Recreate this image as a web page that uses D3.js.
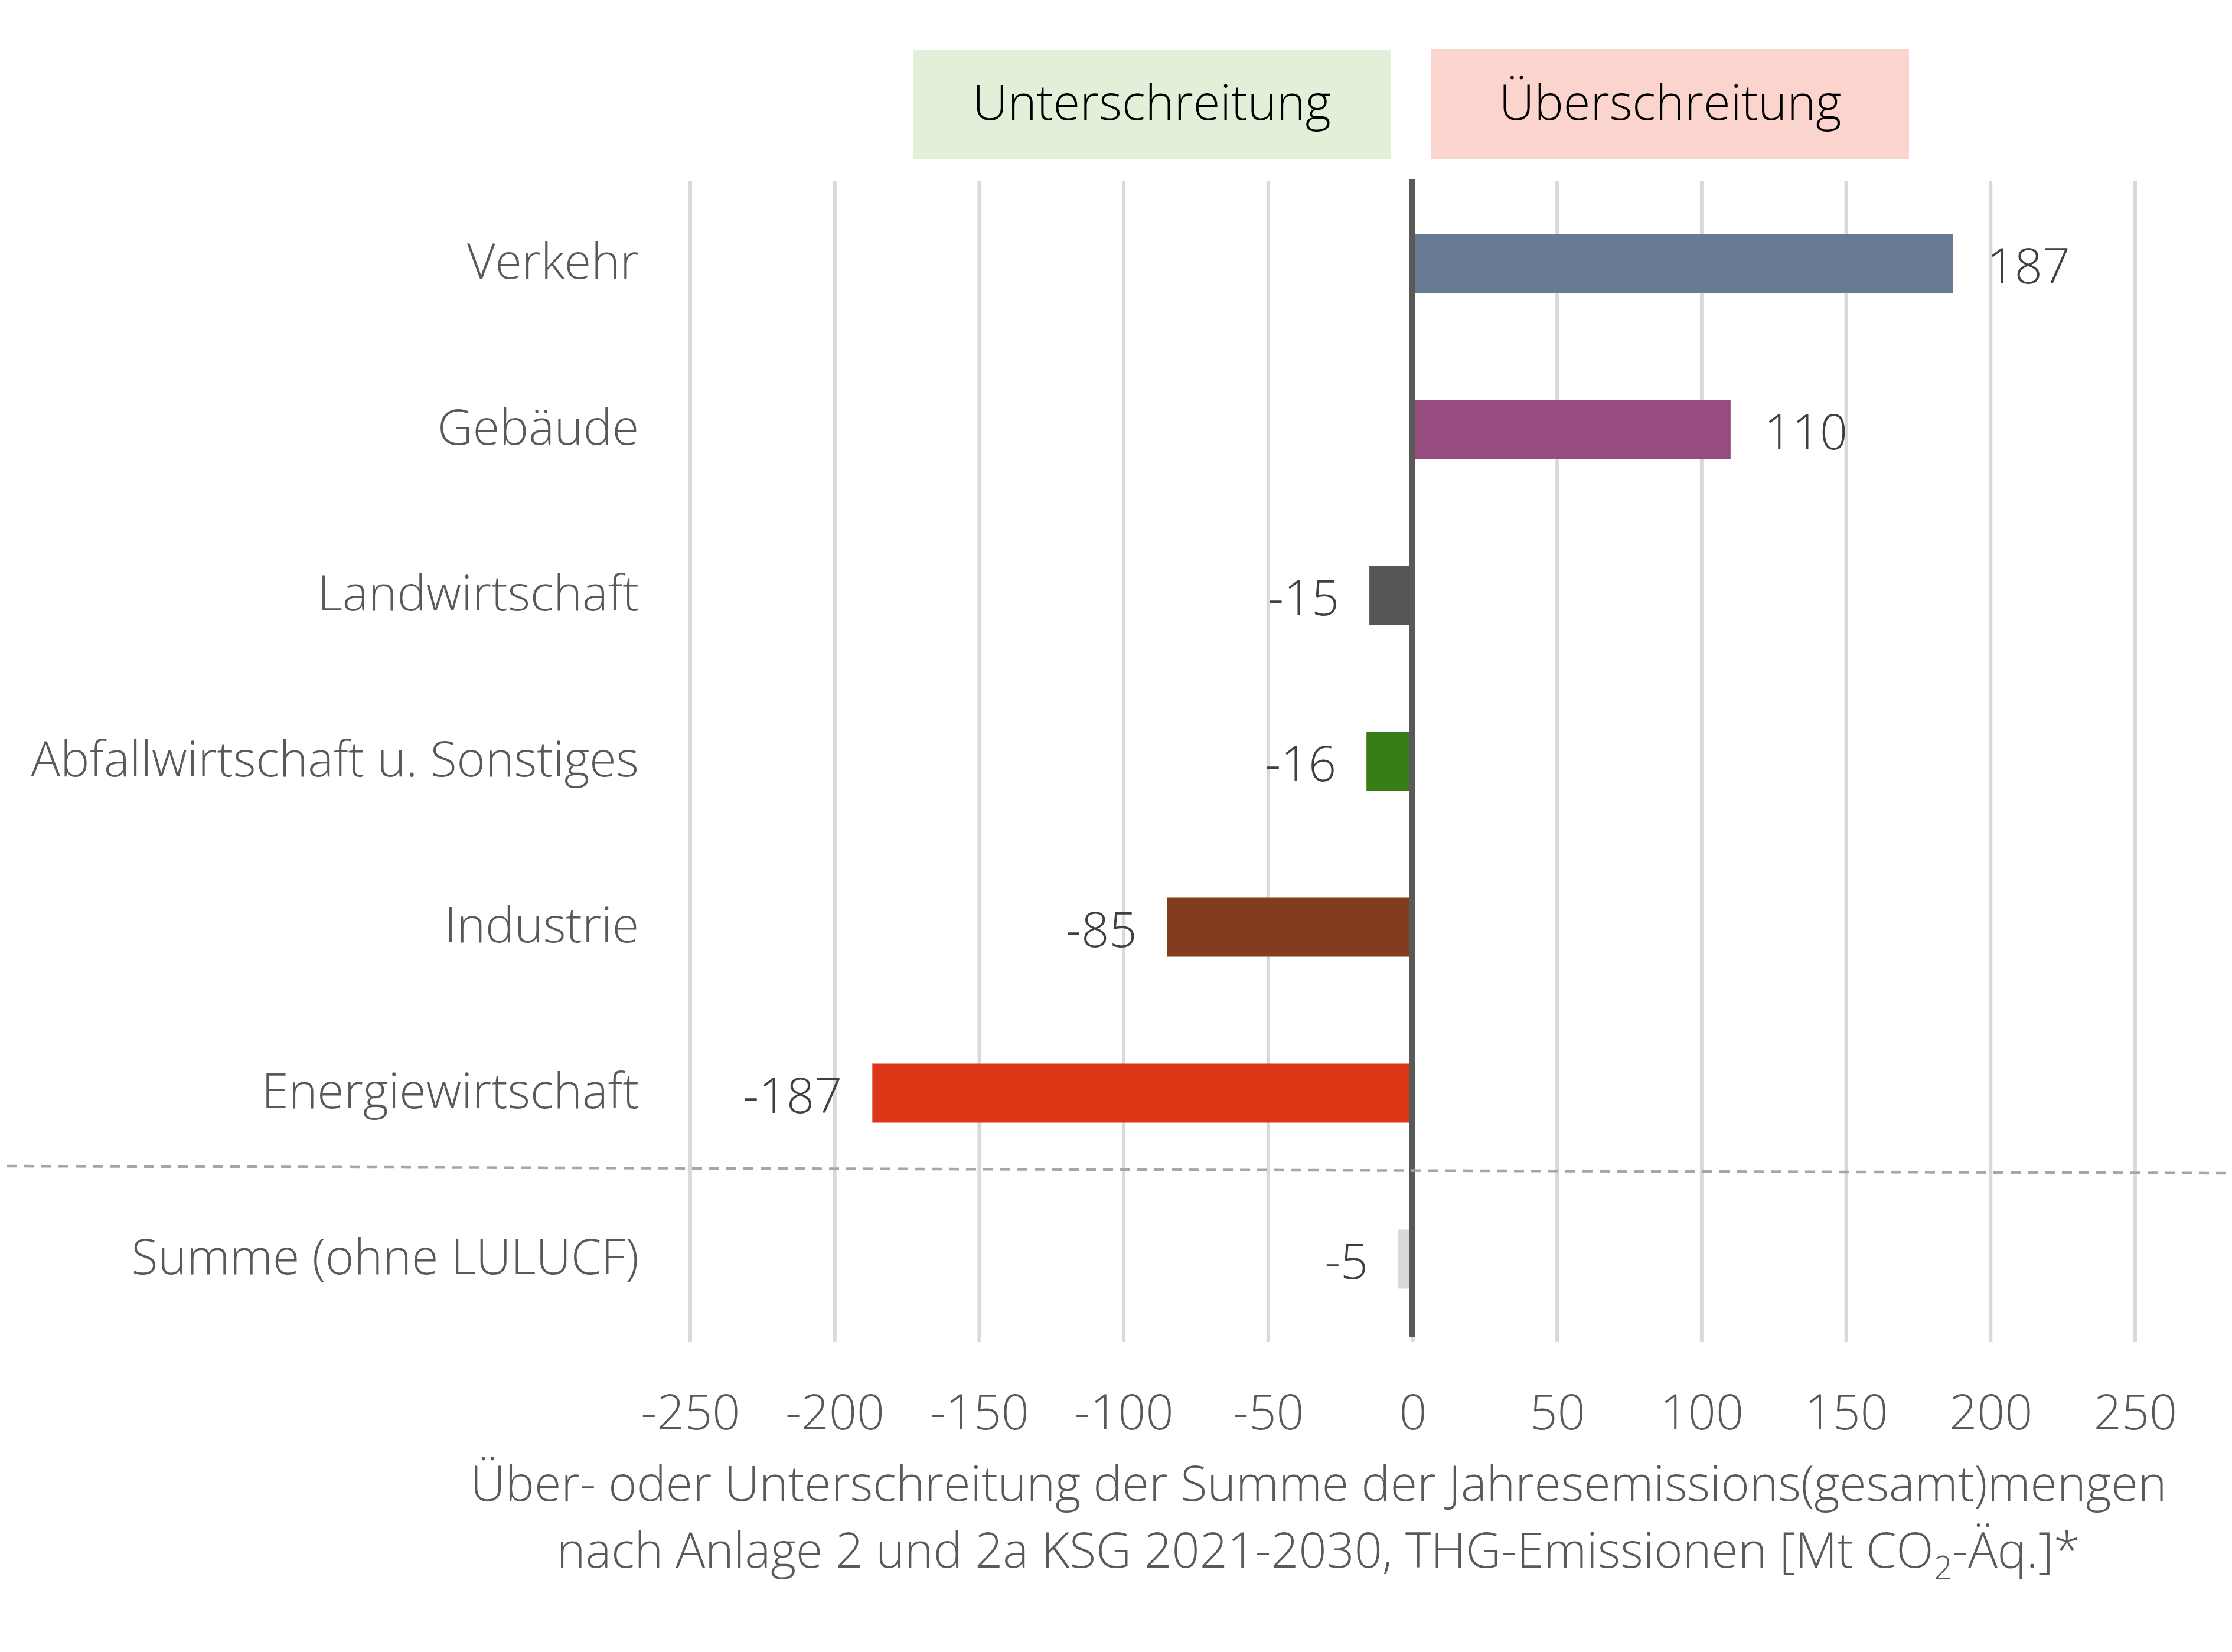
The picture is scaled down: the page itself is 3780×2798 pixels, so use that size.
<!DOCTYPE html>
<html>
<head>
<meta charset="utf-8">
<script src="https://cdn.jsdelivr.net/npm/d3@7"></script>
<style>
  html, body { margin: 0; padding: 0; background: #ffffff; }
  svg { display: block; font-family: "Open Sans", sans-serif; font-weight: 300; }
</style>
</head>
<body>
<svg id="chart" width="3780" height="2798"></svg>
<script>
// ---- data ----
const categories = ["Verkehr", "Gebäude", "Landwirtschaft", "Abfallwirtschaft u. Sonstiges", "Industrie", "Energiewirtschaft", "Summe (ohne LULUCF)"];
const values = [187, 110, -15, -16, -85, -187, -5];
const barColors = ["#677c93", "#964c7e", "#565656", "#377c15", "#843c1e", "#db3615", "#dadada"];
const tickValues = [-250, -200, -150, -100, -50, 0, 50, 100, 150, 200, 250];
const tickLabels = ["-250", "-200", "-150", "-100", "-50", "0", "50", "100", "150", "200", "250"];
const legendLabels = ["Unterschreitung", "Überschreitung"];
const legendColors = ["#e2f0d9", "#fbd5cd"];
const axisTitleLine1 = "Über- oder Unterschreitung der Summe der Jahresemissions(gesamt)mengen";
const axisTitleLine2 = ["nach Anlage 2 und 2a KSG 2021-2030, THG-Emissionen [Mt CO", "2", "-Äq.]*"];

// ---- layout ----
const svg = d3.select("#chart");
const x = d3.scaleLinear().domain([-250, 250]).range([1169, 3616]);
const y = d3.scaleBand().domain(categories).range([306, 2273]).paddingInner(0).paddingOuter(0);
const barH = 100;
const fs = 82.5;
const textGray = "#595959";
const labelDark = "#404040";

// gridlines
svg.append("g").selectAll("line").data(tickValues).join("line")
  .attr("x1", d => x(d)).attr("x2", d => x(d))
  .attr("y1", 306).attr("y2", 2273)
  .attr("stroke", "#d9d9d9").attr("stroke-width", 6);

// bars
const cy = c => y(c) + y.bandwidth() / 2;
svg.append("g").selectAll("rect").data(categories).join("rect")
  .attr("x", (c, i) => Math.min(x(0), x(values[i])))
  .attr("width", (c, i) => Math.abs(x(values[i]) - x(0)))
  .attr("y", c => cy(c) - barH / 2)
  .attr("height", barH)
  .attr("fill", (c, i) => barColors[i]);

// zero axis line
svg.append("line")
  .attr("x1", x(0) - 1).attr("x2", x(0) - 1)
  .attr("y1", 303).attr("y2", 2264)
  .attr("stroke", "#595959").attr("stroke-width", 11);

// dashed separator between sectors and sum
const sepY = (cy(categories[5]) + cy(categories[6])) / 2;
svg.append("line")
  .attr("x1", 12).attr("x2", 3780)
  .attr("y1", sepY - 17).attr("y2", sepY - 5)
  .attr("stroke", "#a6a6a6").attr("stroke-width", 4.5)
  .attr("stroke-dasharray", "17 12");

// category labels
svg.append("g").selectAll("text").data(categories).join("text")
  .attr("x", 1082).attr("y", c => cy(c) + 25)
  .attr("text-anchor", "end")
  .attr("font-size", fs).attr("fill", textGray)
  .text(c => c);

// value labels
svg.append("g").selectAll("text").data(categories).join("text")
  .attr("x", (c, i) => values[i] >= 0 ? x(values[i]) + 57 : x(values[i]) - 51)
  .attr("y", c => cy(c) + 33)
  .attr("text-anchor", (c, i) => values[i] >= 0 ? "start" : "end")
  .attr("font-size", fs).attr("fill", labelDark)
  .text((c, i) => String(values[i]));

// x axis tick labels
const xAxis = d3.axisBottom(x).tickValues(tickValues).tickSize(0).tickPadding(0)
  .tickFormat((d, i) => tickLabels[i]);
const axG = svg.append("g").attr("transform", "translate(0,2340)").call(xAxis);
axG.select(".domain").remove();
axG.selectAll("text")
  .attr("font-family", "Open Sans, sans-serif").attr("font-weight", 300)
  .attr("font-size", fs).attr("fill", textGray)
  .attr("dy", null).attr("y", 81);

// axis title
svg.append("text")
  .attr("x", 2233).attr("y", 2542).attr("text-anchor", "middle")
  .attr("font-size", fs).attr("fill", textGray)
  .text(axisTitleLine1);
const t2 = svg.append("text")
  .attr("x", 2233).attr("y", 2655).attr("text-anchor", "middle")
  .attr("font-size", fs).attr("fill", textGray);
t2.append("tspan").text(axisTitleLine2[0]);
t2.append("tspan").attr("font-size", 56).attr("dy", 20).text(axisTitleLine2[1]);
t2.append("tspan").attr("dy", -20).text(axisTitleLine2[2]);

// legend boxes
const legendBoxes = [[1546, 84, 809, 186], [2424, 83, 809, 186]];
const lg = svg.append("g").selectAll("g").data(legendLabels).join("g");
lg.append("rect")
  .attr("x", (d, i) => legendBoxes[i][0]).attr("y", (d, i) => legendBoxes[i][1])
  .attr("width", (d, i) => legendBoxes[i][2]).attr("height", (d, i) => legendBoxes[i][3])
  .attr("fill", (d, i) => legendColors[i]);
lg.append("text")
  .attr("x", (d, i) => legendBoxes[i][0] + legendBoxes[i][2] / 2)
  .attr("y", 203).attr("text-anchor", "middle")
  .attr("font-size", 83).attr("fill", "#000000")
  .text(d => d);
</script>
</body>
</html>
